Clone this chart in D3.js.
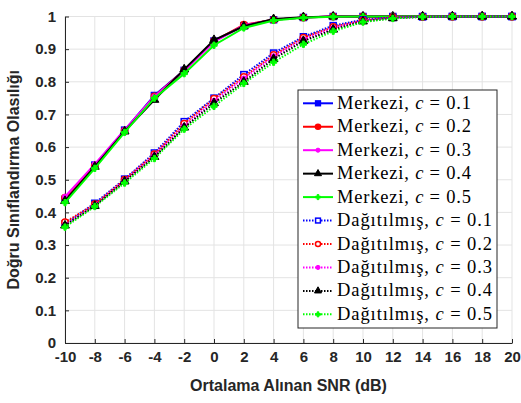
<!DOCTYPE html>
<html>
<head>
<meta charset="utf-8">
<script src="https://cdn.jsdelivr.net/npm/d3@7"></script>
<style>
  body { margin: 0; background: #fff; }
  .tick text { font-family: "Liberation Sans", Arial, sans-serif; font-weight: bold; font-size: 15px; fill: #262626; }
</style>
</head>
<body>
<div id="chart"></div>
<script>
const snr = [-10, -8, -6, -4, -2, 0, 2, 4, 6, 8, 10, 12, 14, 16, 18, 20];
const xTicks = [-10, -8, -6, -4, -2, 0, 2, 4, 6, 8, 10, 12, 14, 16, 18, 20];
const yTicks = [0, 0.1, 0.2, 0.3, 0.4, 0.5, 0.6, 0.7, 0.8, 0.9, 1];
const cValues = ["0.1", "0.2", "0.3", "0.4", "0.5"];
const colors = ["#0000ff", "#ff0000", "#ff00ff", "#000000", "#00ff00"];
const markers = ["square", "circle", "dot", "triangle", "plus"];

// Merkezi (solid)
const merkezi = [
  [0.44, 0.545, 0.652, 0.758, 0.835, 0.925, 0.972, 0.99, 0.997, 1, 1, 1, 1, 1, 1, 1],
  [0.445, 0.543, 0.65, 0.755, 0.835, 0.925, 0.975, 0.99, 0.997, 1, 1, 1, 1, 1, 1, 1],
  [0.448, 0.548, 0.653, 0.755, 0.833, 0.922, 0.973, 0.99, 0.997, 1, 1, 1, 1, 1, 1, 1],
  [0.435, 0.54, 0.648, 0.745, 0.838, 0.928, 0.97, 0.992, 0.998, 1, 1, 1, 1, 1, 1, 1],
  [0.43, 0.535, 0.645, 0.75, 0.825, 0.912, 0.965, 0.988, 0.996, 0.999, 1, 1, 1, 1, 1, 1]
];
// Dağıtılmış (dotted)
const dagitilmis = [
  [0.365, 0.428, 0.502, 0.582, 0.678, 0.75, 0.822, 0.888, 0.938, 0.972, 0.99, 0.997, 0.999, 1, 1, 1],
  [0.37, 0.425, 0.5, 0.578, 0.672, 0.748, 0.815, 0.882, 0.935, 0.968, 0.988, 0.997, 0.999, 1, 1, 1],
  [0.362, 0.422, 0.498, 0.575, 0.665, 0.742, 0.81, 0.878, 0.93, 0.965, 0.987, 0.996, 0.999, 1, 1, 1],
  [0.36, 0.42, 0.495, 0.57, 0.66, 0.735, 0.8, 0.87, 0.925, 0.96, 0.985, 0.995, 0.999, 1, 1, 1],
  [0.355, 0.418, 0.49, 0.565, 0.655, 0.725, 0.795, 0.86, 0.915, 0.955, 0.983, 0.994, 0.999, 1, 1, 1]
];

const width = 521, height = 403;
const margin = { left: 65, right: 9, top: 16.5, bottom: 60 };

const svg = d3.select("#chart").append("svg")
  .attr("width", width)
  .attr("height", height);

const x = d3.scaleLinear().domain([-10, 20]).range([margin.left, width - margin.right]);
const y = d3.scaleLinear().domain([0, 1]).range([height - margin.bottom, margin.top]);

//grid
const grid = svg.append("g");
grid.selectAll(".gx").data(xTicks).enter().append("line")
  .attr("x1", d => x(d)).attr("x2", d => x(d))
  .attr("y1", y(0)).attr("y2", y(1))
  .attr("stroke", "#e3e3e3").attr("stroke-width", 1);
grid.selectAll(".gy").data(yTicks).enter().append("line")
  .attr("x1", x(-10)).attr("x2", x(20))
  .attr("y1", d => y(d)).attr("y2", d => y(d))
  .attr("stroke", "#e3e3e3").attr("stroke-width", 1);

//axes
const xAxis = svg.append("g")
  .attr("transform", `translate(0,${y(0)})`)
  .call(d3.axisBottom(x).tickValues(xTicks).tickSizeInner(-4).tickSizeOuter(0).tickPadding(10)
    .tickFormat(d => String(d)));
const yAxis = svg.append("g")
  .attr("transform", `translate(${x(-10)},0)`)
  .call(d3.axisLeft(y).tickValues(yTicks).tickSizeInner(-4).tickSizeOuter(0).tickPadding(9)
    .tickFormat(d => d === 0 || d === 1 ? d3.format("d")(d) : d3.format(".1f")(d)));
[xAxis, yAxis].forEach(a => {
  a.select(".domain").attr("stroke", "#262626").attr("stroke-width", 1);
  a.selectAll(".tick line").attr("stroke", "#262626");
});
xAxis.selectAll(".tick text").attr("dy", "0.6em");

//axis labels
svg.append("text")
  .attr("x", (x(-10) + x(20)) / 2)
  .attr("y", 391)
  .attr("text-anchor", "middle")
  .style("font-family", "Liberation Sans, Arial, sans-serif")
  .style("font-weight", "bold")
  .style("font-size", "16px")
  .style("fill", "#262626")
  .text("Ortalama Alınan SNR (dB)");
svg.append("text")
  .attr("transform", `translate(19,${(y(0) + y(1)) / 2}) rotate(-90)`)
  .attr("text-anchor", "middle")
  .style("font-family", "Liberation Sans, Arial, sans-serif")
  .style("font-weight", "bold")
  .style("font-size", "16px")
  .style("fill", "#262626")
  .text("Doğru Sınıflandırma Olasılığı");

//markers
function drawMarker(g, type, color, cx, cy, hollow, s = 1) {
  const fill = hollow ? "#fff" : color;
  if (type === "square") {
    g.append("rect").attr("x", cx - 3 * s).attr("y", cy - 3 * s).attr("width", 6 * s).attr("height", 6 * s)
      .attr("fill", fill).attr("stroke", color).attr("stroke-width", 1.5);
  } else if (type === "circle") {
    g.append("circle").attr("cx", cx).attr("cy", cy).attr("r", 3.2 * s)
      .attr("fill", fill).attr("stroke", color).attr("stroke-width", 1.5);
  } else if (type === "dot") {
    g.append("circle").attr("cx", cx).attr("cy", cy).attr("r", 2.6 * s)
      .attr("fill", color).attr("stroke", color).attr("stroke-width", 1);
  } else if (type === "triangle") {
    g.append("path").attr("d", d3.symbol(d3.symbolTriangle, 34 * s * s)())
      .attr("transform", `translate(${cx},${cy})`)
      .attr("fill", color).attr("stroke", color).attr("stroke-width", 1);
  } else {
    g.append("path").attr("d", d3.symbol(d3.symbolCross, 22 * s * s)())
      .attr("transform", `translate(${cx},${cy})`)
      .attr("fill", color).attr("stroke", color).attr("stroke-width", 1);
  }
}

const line = d3.line().x((d, i) => x(snr[i])).y(d => y(d));
const plot = svg.append("g");

function drawSeries(values, color, marker, dotted) {
  const g = plot.append("g");
  g.append("path")
    .datum(values)
    .attr("d", line)
    .attr("fill", "none")
    .attr("stroke", color)
    .attr("stroke-width", 2)
    .attr("stroke-dasharray", dotted ? "1.5,1.5" : null);
  values.forEach((v, i) => drawMarker(g, marker, color, x(snr[i]), y(v), dotted));
}
merkezi.forEach((vals, k) => drawSeries(vals, colors[k], markers[k], false));
dagitilmis.forEach((vals, k) => drawSeries(vals, colors[k], markers[k], true));

//legend
const legendItems = [];
cValues.forEach((c, k) => legendItems.push({ name: "Merkezi", c: c, color: colors[k], marker: markers[k], dotted: false }));
cValues.forEach((c, k) => legendItems.push({ name: "Dağıtılmış", c: c, color: colors[k], marker: markers[k], dotted: true }));

const legend = svg.append("g").attr("transform", "translate(298,90)");
legend.append("rect")
  .attr("width", 199).attr("height", 238)
  .attr("fill", "#fff").attr("stroke", "#262626").attr("stroke-width", 1);
legendItems.forEach((d, i) => {
  const row = legend.append("g").attr("transform", `translate(0,${13.3 + i * 23.45})`);
  row.append("line").attr("x1", 5).attr("x2", 35).attr("y1", 0).attr("y2", 0)
    .attr("stroke", d.color).attr("stroke-width", 2)
    .attr("stroke-dasharray", d.dotted ? "1.5,1.5" : null);
  drawMarker(row, d.marker, d.color, 20, 0, d.dotted, 0.8);
  const t = row.append("text")
    .attr("x", 39).attr("y", 5.5)
    .attr("textLength", d.dotted ? 155 : 134)
    .attr("lengthAdjust", "spacing")
    .style("font-family", "'Liberation Serif', 'DejaVu Serif', serif")
    .style("font-size", "18.5px")
    .style("fill", "#000");
  t.append("tspan").text(d.name + ", ");
  t.append("tspan").style("font-style", "italic").text("c");
  t.append("tspan").text(" = " + d.c);
});
</script>
</body>
</html>
